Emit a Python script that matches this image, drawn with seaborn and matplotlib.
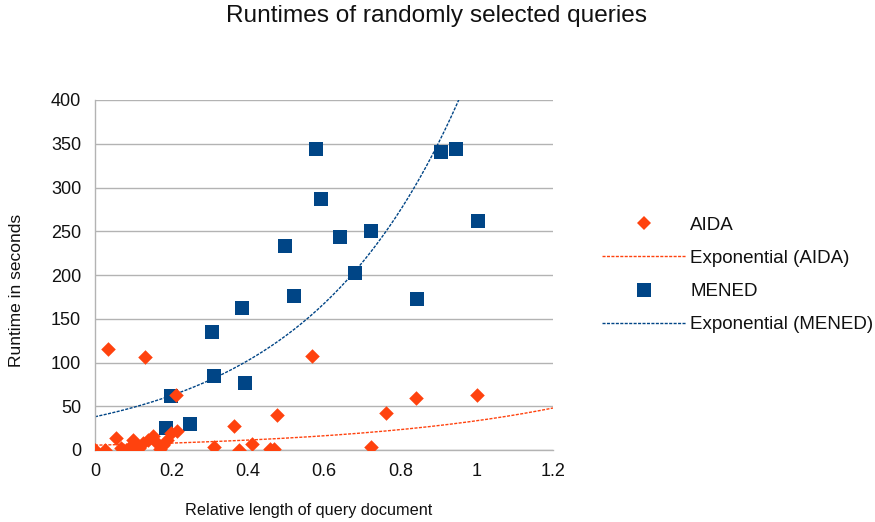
import numpy as np
import pandas as pd
import matplotlib
matplotlib.use("Agg")
import matplotlib.pyplot as plt
import seaborn as sns
from matplotlib.lines import Line2D

# ---- data ----
aida_x = [0.0, 0.026, 0.034, 0.055, 0.068, 0.08, 0.092, 0.1, 0.105, 0.115, 0.126,
          0.131, 0.14, 0.152, 0.16, 0.17, 0.178, 0.189, 0.199, 0.212, 0.215, 0.312,
          0.364, 0.377, 0.411, 0.458, 0.468, 0.477, 0.569, 0.723, 0.762, 0.841, 1.0]
aida_y = [0, 0, 116, 14, 2, 0, 4, 12, 0, 2, 8,
          106, 11, 16, 9, 1, 6, 12, 20, 63, 22, 3,
          27, 0, 7, 1, 1, 40, 108, 4, 42, 60, 63]

mened_x = [0.186, 0.199, 0.249, 0.306, 0.312, 0.385, 0.393, 0.498, 0.521, 0.579,
           0.592, 0.642, 0.681, 0.723, 0.844, 0.906, 0.946, 1.003]
mened_y = [25, 62, 30, 135, 85, 162, 77, 233, 176, 344,
           287, 243, 202, 250, 173, 341, 344, 262]

# exponential trend-line coefficients y = a * exp(b * x)
aida_trend = [5.5, 1.805]
mened_trend = [38.0, 2.47]

x_ticks = [0, 0.2, 0.4, 0.6, 0.8, 1, 1.2]
x_tick_labels = ["0", "0.2", "0.4", "0.6", "0.8", "1", "1.2"]
y_ticks = [0, 50, 100, 150, 200, 250, 300, 350, 400]

title = "Runtimes of randomly selected queries"
x_label = "Relative length of query document"
y_label = "Runtime in seconds"
labels = ["AIDA", "Exponential (AIDA)", "MENED", "Exponential (MENED)"]

AIDA_C = "#ff420e"
MENED_C = "#004586"
GRID_C = "#b3b3b3"
TEXT_C = "#111111"

sns.set_style("white")
plt.rcParams["font.family"] = ["Liberation Sans", "DejaVu Sans"]
plt.rcParams["text.color"] = TEXT_C

fig = plt.figure(figsize=(8.75, 5.22), dpi=100)
W, H = 875, 522
ax = fig.add_axes([95 / W, 1 - 450 / H, (553 - 95) / W, (450 - 100) / H])

# trend lines
tx_a = np.linspace(0, 1.2, 300)
ty_a = aida_trend[0] * np.exp(aida_trend[1] * tx_a)
tx_m = np.linspace(0, 1.2, 300)
ty_m = mened_trend[0] * np.exp(mened_trend[1] * tx_m)

dash = (0, (2.2, 1.0))
ax.plot(tx_a, ty_a, color=AIDA_C, lw=1.0, linestyle=dash, zorder=2)
ax.plot(tx_m, ty_m, color=MENED_C, lw=1.0, linestyle=dash, zorder=2)

df_a = pd.DataFrame({"x": aida_x, "y": aida_y})
df_m = pd.DataFrame({"x": mened_x, "y": mened_y})
sns.scatterplot(data=df_m, x="x", y="y", marker="s", s=105, color=MENED_C,
                linewidth=0, ax=ax, zorder=3, legend=False)
sns.scatterplot(data=df_a, x="x", y="y", marker="D", s=55, color=AIDA_C,
                linewidth=0, ax=ax, zorder=4, legend=False)

ax.set_xlim(0, 1.2)
ax.set_ylim(0, 400)
ax.set_xticks(x_ticks)
ax.set_xticklabels(x_tick_labels)
ax.set_yticks(y_ticks)
ax.set_xlabel("")
ax.set_ylabel("")

ax.grid(axis="y", color=GRID_C, lw=1.0)
ax.grid(axis="x", visible=False)
ax.set_axisbelow(True)
for s in ["top", "right"]:
    ax.spines[s].set_visible(False)
for s in ["left", "bottom"]:
    ax.spines[s].set_color(GRID_C)
    ax.spines[s].set_linewidth(1.0)
ax.tick_params(axis="both", which="both", length=6, width=1.0, color=GRID_C,
               labelsize=13, labelcolor=TEXT_C, direction="out")
ax.tick_params(axis="y", pad=4)
ax.tick_params(axis="x", pad=3)

fig.text(436 / W, 1 - 16 / H, title, ha="center", va="center", fontsize=17.6)
fig.text(309 / W, 1 - 511 / H, x_label, ha="center", va="center", fontsize=11.7)
fig.text(17 / W, 1 - 290 / H, y_label, ha="center", va="center", fontsize=12.5,
         rotation=90)

handles = [
    Line2D([], [], marker="D", color=AIDA_C, linestyle="none", markersize=7.5,
           markeredgewidth=0),
    Line2D([], [], color=AIDA_C, lw=1.0, linestyle=dash),
    Line2D([], [], marker="s", color=MENED_C, linestyle="none", markersize=10,
           markeredgewidth=0),
    Line2D([], [], color=MENED_C, lw=1.0, linestyle=dash),
]
fig.legend(handles, labels, loc="center left", bbox_to_anchor=(602 / W, 1 - 275 / H),
           frameon=False, fontsize=13.5, handlelength=4.5, handletextpad=0.2,
           labelspacing=0.85, borderpad=0, borderaxespad=0)

fig.savefig("out.png", dpi=100)
